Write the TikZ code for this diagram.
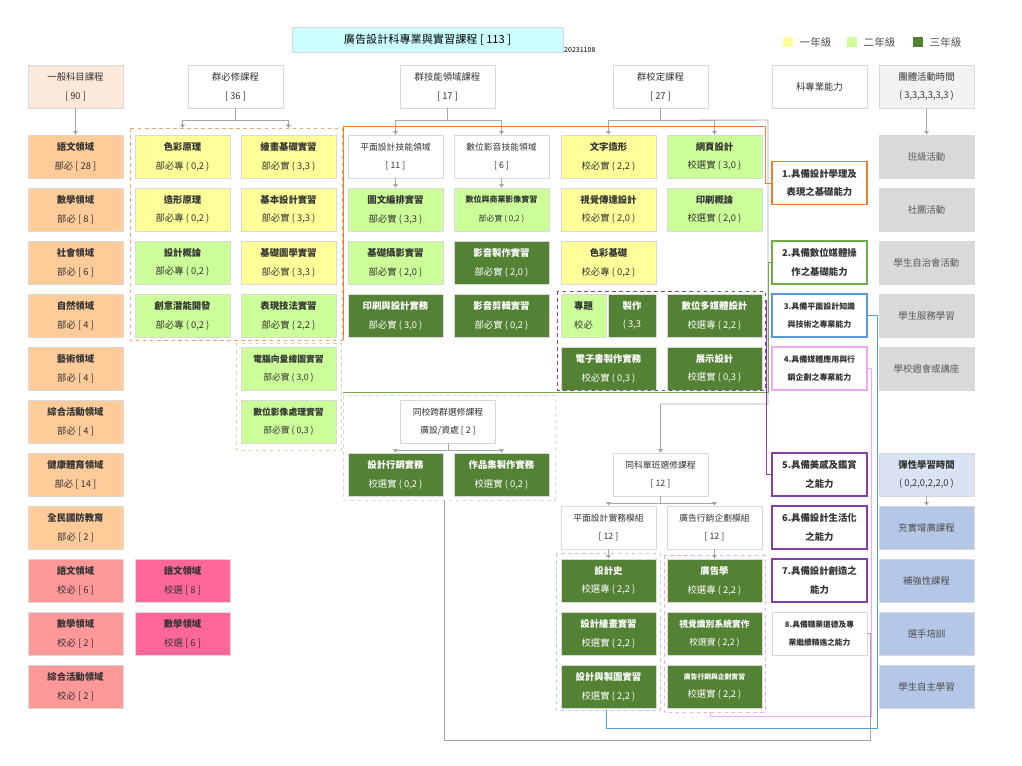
\documentclass[tikz,border=0pt]{standalone}
\usepackage{fontspec}
\setmainfont{Noto Sans CJK TC}
\usepackage{tikz}
\usetikzlibrary{arrows.meta}
\usetikzlibrary{positioning}
\definecolor{yel}{HTML}{FFFF99}
\definecolor{lgr}{HTML}{CCFF99}
\definecolor{dgr}{HTML}{548235}
\definecolor{org}{HTML}{FFCC99}
\definecolor{pnk}{HTML}{FF9999}
\definecolor{mag}{HTML}{FF6699}
\definecolor{gry}{HTML}{D9D9D9}
\definecolor{blu}{HTML}{B4C7E7}
\definecolor{lblu}{HTML}{DAE3F3}
\definecolor{cyn}{HTML}{CCFFFF}
\definecolor{lorg}{HTML}{FDE9D9}
\definecolor{lnk}{HTML}{A6A6A6}
\definecolor{cOrg}{HTML}{ED7D31}
\definecolor{cGrn}{HTML}{70AD47}
\definecolor{cPur}{HTML}{8040A8}
\definecolor{cBlu}{HTML}{5B9BD5}
\definecolor{cPnk}{HTML}{F4A6F4}

\begin{document}
\begin{tikzpicture}[x = 0.03cm, y = -0.03cm,
	box/.style = {draw = black!15, line width = 0.6pt, minimum width = 2.85cm, minimum height = 1.29cm, align = center, font = \fontsize{8}{16}\selectfont, text = black!80, inner sep = 1pt},
	wht/.style = {box, fill = white},
	yl/.style = {box, fill = yel},
	lg/.style = {box, fill = lgr},
	dg/.style = {box, fill = dgr, text = white!92},
	og/.style = {box, fill = org},
	pk/.style = {box, fill = pnk},
	mg/.style = {box, fill = mag},
	gy/.style = {box, fill = gry, text = black!65},
	bl/.style = {box, fill = blu, text = black!70},
	abil/.style = {box, fill = white, line width = 1pt},
	link/.style = {draw = lnk, line width = 0.8pt},
	arr/.style = {link, -{Triangle[width = 4pt, length = 3pt]}},
	grp/.style = {dashed, line width = 0.8pt}]
	\useasboundingbox (0,0) rectangle (1022,766);

	% title and legend
	\node[box, fill = cyn, minimum width = 8.13cm, minimum height = 0.75cm, font = \fontsize{9.5}{11}\selectfont, text = black] (title) at (427.5,39.5) {廣告設計科專業與實習課程 [ 113 ]};
	\node[font = \fontsize{6}{7}\selectfont, anchor = west, inner sep = 0pt] (date) at (564,50) {20231108};
	\node[fill = yel, minimum size = 0.3cm, inner sep = 0pt] (ly) at (788,42) {};
	\node[right = 2pt of ly, font = \fontsize{9}{10}\selectfont, text = black!70] (lyt) {一年級};
	\node[fill = lgr, minimum size = 0.3cm, inner sep = 0pt] (lg) at (852,42) {};
	\node[right = 2pt of lg, font = \fontsize{9}{10}\selectfont, text = black!70] (lgt) {二年級};
	\node[fill = dgr, minimum size = 0.3cm, inner sep = 0pt] (ld) at (918,42) {};
	\node[right = 2pt of ld, font = \fontsize{9}{10}\selectfont, text = black!70] (ldt) {三年級};

	% headers
	\node[box, fill = lorg] (hA) at (75.5,86.5) {一般科目課程\\{[ 90 ]}};
	\node[wht] (hB) at (235.5,86.5) {群必修課程\\{[ 36 ]}};
	\node[wht] (hD) at (447.5,86.5) {群技能領域課程\\{[ 17 ]}};
	\node[wht] (hF) at (660.5,86.5) {群校定課程\\{[ 27 ]}};
	\node[wht] (hH) at (819.5,86.5) {科專業能力};
	\node[box, fill = black!5] (hI) at (926.5,86.5) {團體活動時間\\( 3,3,3,3,3,3 )};

	% general subjects
	\node[og] (a0) at (75.5,156.5) {\textbf{語文領域}\\部必 [ 28 ]};
	\node[og] (a1) at (75.5,209.5) {\textbf{數學領域}\\部必 [ 8 ]};
	\node[og] (a2) at (75.5,262.5) {\textbf{社會領域}\\部必 [ 6 ]};
	\node[og] (a3) at (75.5,315.5) {\textbf{自然領域}\\部必 [ 4 ]};
	\node[og] (a4) at (75.5,368.5) {\textbf{藝術領域}\\部必 [ 4 ]};
	\node[og] (a5) at (75.5,421.5) {\textbf{綜合活動領域}\\部必 [ 4 ]};
	\node[og] (a6) at (75.5,474.5) {\textbf{健康體育領域}\\部必 [ 14 ]};
	\node[og] (a7) at (75.5,527.5) {\textbf{全民國防教育}\\部必 [ 2 ]};
	\node[pk] (a8) at (75.5,580.5) {\textbf{語文領域}\\校必 [ 6 ]};
	\node[pk] (a9) at (75.5,633.5) {\textbf{數學領域}\\校必 [ 2 ]};
	\node[pk] (a10) at (75.5,686.5) {\textbf{綜合活動領域}\\校必 [ 2 ]};
	\node[mg] (b8) at (182.5,580.5) {\textbf{語文領域}\\校選 [ 8 ]};
	\node[mg] (b9) at (182.5,633.5) {\textbf{數學領域}\\校選 [ 6 ]};

	% group required
	\node[yl] (b0) at (182.5,156.5) {\textbf{色彩原理}\\部必專 ( 0,2 )};
	\node[yl] (b1) at (182.5,209.5) {\textbf{造形原理}\\部必專 ( 0,2 )};
	\node[lg] (b2) at (182.5,262.5) {\textbf{設計概論}\\部必專 ( 0,2 )};
	\node[lg] (b3) at (182.5,315.5) {\textbf{創意潛能開發}\\部必專 ( 0,2 )};
	\node[yl] (c0) at (288.5,156.5) {\textbf{繪畫基礎實習}\\部必實 ( 3,3 )};
	\node[yl] (c1) at (288.5,209.5) {\textbf{基本設計實習}\\部必實 ( 3,3 )};
	\node[yl] (c2) at (288.5,262.5) {\textbf{基礎圖學實習}\\部必實 ( 3,3 )};
	\node[lg] (c3) at (288.5,315.5) {\textbf{表現技法實習}\\部必實 ( 2,2 )};
	\node[lg, font = \fontsize{7.5}{16}\selectfont] (c4) at (288.5,368.5) {\textbf{電腦向量繪圖實習}\\部必實 ( 3,0 )};
	\node[lg, font = \fontsize{7.5}{16}\selectfont] (c5) at (288.5,421.5) {\textbf{數位影像處理實習}\\部必實 ( 0,3 )};

	% skill fields
	\node[wht, font = \fontsize{7.5}{16}\selectfont] (d0) at (395.5,156.5) {平面設計技能領域\\{[ 11 ]}};
	\node[lg] (d1) at (395.5,209.5) {\textbf{圖文編排實習}\\部必實 ( 3,3 )};
	\node[lg] (d2) at (395.5,262.5) {\textbf{基礎攝影實習}\\部必實 ( 2,0 )};
	\node[dg] (d3) at (395.5,315.5) {\textbf{印刷與設計實務}\\部必實 ( 3,0 )};
	\node[wht, font = \fontsize{7.5}{16}\selectfont] (e0) at (501.5,156.5) {數位影音技能領域\\{[ 6 ]}};
	\node[lg, font = \fontsize{6.8}{16}\selectfont] (e1) at (501.5,209.5) {\textbf{數位與商業影像實習}\\部必實 ( 0,2 )};
	\node[dg] (e2) at (501.5,262.5) {\textbf{影音製作實習}\\部必實 ( 2,0 )};
	\node[dg] (e3) at (501.5,315.5) {\textbf{影音剪輯實習}\\部必實 ( 0,2 )};

	% cross group electives
	\node[wht, font = \fontsize{7.5}{16}\selectfont] (xh) at (448,421.5) {同校跨群選修課程\\廣設/資處 [ 2 ]};
	\node[dg] (d6) at (395.5,474.5) {\textbf{設計行銷實務}\\校選實 ( 0,2 )};
	\node[dg] (e6) at (501.5,474.5) {\textbf{作品集製作實務}\\校選實 ( 0,2 )};

	% school required
	\node[yl] (f0) at (608.5,156.5) {\textbf{文字造形}\\校必實 ( 2,2 )};
	\node[yl] (f1) at (608.5,209.5) {\textbf{視覺傳達設計}\\校必實 ( 2,0 )};
	\node[yl] (f2) at (608.5,262.5) {\textbf{色彩基礎}\\校必專 ( 0,2 )};
	\node[lg, minimum width = 1.35cm] (f3a) at (583.5,315.5) {\textbf{專題}\\校必};
	\node[dg, minimum width = 1.44cm] (f3b) at (632,315.5) {\textbf{製作}\\( 3,3};
	\node[dg] (f4) at (608.5,368.5) {\textbf{電子書製作實務}\\校必實 ( 0,3 )};
	\node[lg] (g0) at (714.5,156.5) {\textbf{網頁設計}\\校選實 ( 3,0 )};
	\node[lg] (g1) at (714.5,209.5) {\textbf{印刷概論}\\校選實 ( 2,0 )};
	\node[dg] (g3) at (714.5,315.5) {\textbf{數位多媒體設計}\\校選專 ( 2,2 )};
	\node[dg] (g4) at (714.5,368.5) {\textbf{展示設計}\\校選實 ( 0,3 )};

	% single class electives
	\node[wht, font = \fontsize{7.5}{16}\selectfont] (sh) at (660.5,474.5) {同科單班選修課程\\{[ 12 ]}};
	\node[wht, font = \fontsize{7.5}{16}\selectfont] (f7) at (608.5,527.5) {平面設計實務模組\\{[ 12 ]}};
	\node[wht, font = \fontsize{7.5}{16}\selectfont] (g7) at (714.5,527.5) {廣告行銷企劃模組\\{[ 12 ]}};
	\node[dg] (f8) at (608.5,580.5) {\textbf{設計史}\\校選專 ( 2,2 )};
	\node[dg] (f9) at (608.5,633.5) {\textbf{設計繪畫實習}\\校選實 ( 2,2 )};
	\node[dg] (f10) at (608.5,686.5) {\textbf{設計與製圖實習}\\校選實 ( 2,2 )};
	\node[dg] (g8) at (714.5,580.5) {\textbf{廣告學}\\校選專 ( 2,2 )};
	\node[dg, font = \fontsize{7.5}{16}\selectfont] (g9) at (714.5,633.5) {\textbf{視覺識別系統實作}\\校選實 ( 2,2 )};
	\node[dg, font = \fontsize{5.8}{16}\selectfont] (g10) at (714.5,686.5) {\textbf{廣告行銷與企劃實習}\\{\fontsize{8}{9}\selectfont 校選實 ( 2,2 )}};

	% abilities
	\node[abil, draw = cOrg] (k1) at (819.5,183) {\textbf{1.具備設計學理及}\\\textbf{表現之基礎能力}};
	\node[abil, draw = cGrn] (k2) at (819.5,262.5) {\textbf{2.具備數位媒體操}\\\textbf{作之基礎能力}};
	\node[abil, draw = cBlu, font = \fontsize{6.8}{16}\selectfont] (k3) at (819.5,315.5) {\textbf{3.具備平面設計知識}\\\textbf{與技術之專業能力}};
	\node[abil, draw = cPnk, font = \fontsize{6.8}{16}\selectfont] (k4) at (819.5,368.5) {\textbf{4.具備媒體應用與行}\\\textbf{銷企劃之專業能力}};
	\node[abil, draw = cPur] (k5) at (819.5,474.5) {\textbf{5.具備美感及鑑賞}\\\textbf{之能力}};
	\node[abil, draw = cPur] (k6) at (819.5,527.5) {\textbf{6.具備設計生活化}\\\textbf{之能力}};
	\node[abil, draw = cPur] (k7) at (819.5,580.5) {\textbf{7.具備設計創造之}\\\textbf{能力}};
	\node[box, fill = white, font = \fontsize{6.6}{16}\selectfont] (k8) at (819.5,633.5) {\textbf{8.具備職業道德及專}\\\textbf{業繼續精進之能力}};

	% activities
	\node[gy] (i0) at (926.5,156.5) {班級活動};
	\node[gy] (i1) at (926.5,209.5) {社團活動};
	\node[gy] (i2) at (926.5,262.5) {學生自治會活動};
	\node[gy] (i3) at (926.5,315.5) {學生服務學習};
	\node[gy] (i4) at (926.5,368.5) {學校週會或講座};
	\node[box, fill = lblu] (i6) at (926.5,474.5) {\textbf{彈性學習時間}\\( 0,2,0,2,2,0 )};
	\node[bl] (i7) at (926.5,527.5) {充實增廣課程};
	\node[bl] (i8) at (926.5,580.5) {補強性課程};
	\node[bl] (i9) at (926.5,633.5) {選手培訓};
	\node[bl] (i10) at (926.5,686.5) {學生自主學習};

	% dashed groups
	\draw[grp, draw = cOrg!70] (130,128) rectangle (342,340);
	\draw[grp, draw = lgr!80!black!60] (236,343) rectangle (341,450);
	\draw[grp, draw = black!15] (343,395) rectangle (555,500);
	\draw[grp, draw = cPur] (557,291) rectangle (765,390);
	\draw[grp, draw = cBlu!50] (556,553) rectangle (660,710);
	\draw[grp, draw = cPnk] (664,555) rectangle (765,712);
	\coordinate (gB) at (182.5,128);
	\coordinate (gC) at (288.5,128);

	% tree arrows
	\draw[arr] (hA) -- (a0);
	\draw[arr] (hB.south) -- ++(0,12) -| (gB);
	\draw[arr] (hB.south) ++(0,12) -| (gC);
	\draw[arr] (hD.south) -- ++(0,12) -| (d0);
	\draw[arr] (hD.south) ++(0,12) -| (e0);
	\draw[arr] (hF.south) -- ++(0,12) -| (f0);
	\draw[arr] (hF.south) ++(0,12) -| (g0);
	\draw[arr] (d0) -- (d1);
	\draw[arr] (e0) -- (e1);
	\draw[arr] (hI) -- (i0);
	\draw[arr] (xh.south) -- ++(0,7) -| (d6);
	\draw[arr] (xh.south) ++(0,7) -| (e6);
	\draw[arr] (sh.south) -- ++(0,7) -| (f7);
	\draw[arr] (sh.south) ++(0,7) -| (g7);
	\draw[arr] (f7) -- (f8);
	\draw[arr] (g7) -- (g8);
	\draw[arr] (i6) -- (i7);
	\draw[arr] (hF.south) ++(0,12) -- (768,120) -- (768,404) -| (sh);

	% ability links
	\draw[cOrg, line width = 0.8pt] (343,340) -- (343,126) -- (765,126) |- (k1);
	\draw[cGrn, line width = 0.8pt] (343,392) -- (768,392) |- (k2);
	\draw[cPur, line width = 0.8pt] (766,300) |- (k5);
	\draw[cBlu, line width = 0.8pt] (k3) -| (877,728) -| (606,710);
	\draw[cPnk, line width = 0.8pt] (k4) -| (871,716) -| (710,712);
	\draw[link] (k8) -| (870,740) -| (444,500);
\end{tikzpicture}
\end{document}
